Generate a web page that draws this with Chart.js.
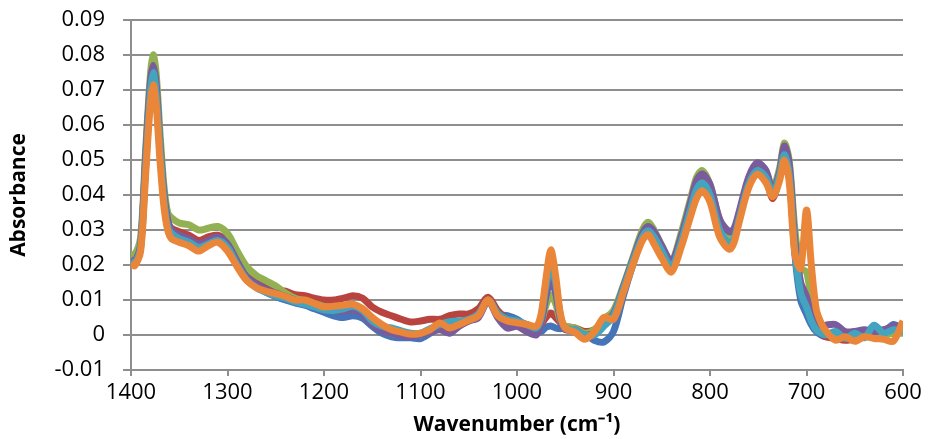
<!DOCTYPE html>
<html>
<head>
<meta charset="utf-8">
<title>Absorbance spectrum</title>
<script src="https://cdn.jsdelivr.net/npm/chart.js@4.4.1/dist/chart.umd.min.js"></script>
<style>
  html, body { margin: 0; padding: 0; background: #fff; }
  #chart { display: block; }
</style>
</head>
<body>
<canvas id="chart" width="928" height="439"></canvas>
<script>
// wavenumbers (cm-1), shared by every series
const wavenumbers = [1400, 1396, 1390, 1385, 1380, 1377, 1374, 1370, 1366, 1362, 1358, 1350, 1340, 1330, 1320, 1310, 1300, 1290, 1280, 1270,
  1260, 1250, 1240, 1230, 1220, 1210, 1200, 1190, 1180, 1170, 1160, 1150, 1140, 1130, 1120, 1110, 1100, 1090, 1080, 1070,
  1060, 1050, 1040, 1030, 1020, 1010, 1000, 990, 980, 975, 970, 965, 960, 955, 950, 940, 930, 920, 910, 900,
  890, 880, 870, 864, 858, 850, 840, 830, 820, 814, 808, 800, 790, 780, 775, 770, 760, 751, 742, 735,
  728, 723, 718, 712, 706, 700, 695, 690, 685, 680, 670, 660, 650, 640, 630, 620, 610, 600];

const serieAzul = [0.022, 0.0215, 0.026, 0.049, 0.071, 0.0762, 0.071, 0.054, 0.040, 0.032, 0.0295, 0.028, 0.027, 0.0255, 0.0265, 0.0275, 0.0255, 0.0205, 0.016, 0.0138,
  0.0122, 0.011, 0.010, 0.0092, 0.0085, 0.0075, 0.0065, 0.0055, 0.005, 0.0055, 0.0048, 0.0025, 0.0005, -0.0005, -0.0008, -0.0008, -0.001, 0.0005, 0.002, 0.003,
  0.0035, 0.0042, 0.0055, 0.0098, 0.006, 0.0055, 0.0045, 0.0025, 0.001, 0.001, 0.0022, 0.0026, 0.002, 0.0018, 0.002, 0.0015, 0.0005, -0.0015, -0.002, 0.001,
  0.011, 0.020, 0.028, 0.030, 0.0285, 0.0245, 0.020, 0.027, 0.037, 0.0425, 0.0445, 0.041, 0.0305, 0.027, 0.0285, 0.0335, 0.044, 0.048, 0.046, 0.041,
  0.046, 0.053, 0.047, 0.023, 0.010, 0.006, 0.003, 0.001, 0.0, -0.0005, 0.0005, 0.0, 0.001, 0.0, 0.0025, 0.0008, 0.003, 0.0015];

const serieVermelha = [0.022, 0.021, 0.026, 0.049, 0.070, 0.0755, 0.070, 0.054, 0.040, 0.032, 0.0305, 0.0295, 0.0285, 0.027, 0.028, 0.0285, 0.0265, 0.0215, 0.017, 0.015,
  0.014, 0.013, 0.0125, 0.0115, 0.0112, 0.0105, 0.010, 0.010, 0.0105, 0.0112, 0.0105, 0.008, 0.0065, 0.0055, 0.0045, 0.0037, 0.004, 0.0045, 0.0045, 0.0055,
  0.006, 0.006, 0.0075, 0.0108, 0.007, 0.0045, 0.0035, 0.003, 0.002, 0.003, 0.005, 0.0063, 0.005, 0.0035, 0.0025, 0.002, 0.001, 0.0015, 0.004, 0.006,
  0.013, 0.021, 0.0285, 0.0305, 0.0285, 0.024, 0.0195, 0.027, 0.037, 0.0425, 0.0445, 0.041, 0.0305, 0.0265, 0.028, 0.033, 0.043, 0.047, 0.0445, 0.039,
  0.0455, 0.0525, 0.048, 0.026, 0.014, 0.012, 0.006, 0.0025, 0.0005, -0.0005, -0.001, -0.0015, -0.001, 0.0, -0.0005, 0.001, 0.0005, 0.002];

const serieVerde = [0.023, 0.023, 0.028, 0.052, 0.074, 0.080, 0.075, 0.058, 0.043, 0.035, 0.0335, 0.032, 0.0315, 0.030, 0.0305, 0.031, 0.029, 0.024, 0.0195, 0.017,
  0.0155, 0.014, 0.012, 0.0105, 0.0098, 0.009, 0.0082, 0.0075, 0.007, 0.0075, 0.0065, 0.0035, 0.0015, 0.0005, 0.0, -0.0002, 0.0, 0.001, 0.002, 0.0025,
  0.0035, 0.004, 0.0055, 0.010, 0.006, 0.0035, 0.003, 0.002, 0.0015, 0.0035, 0.0085, 0.0114, 0.009, 0.004, 0.0025, 0.002, 0.0005, 0.0015, 0.0045, 0.007,
  0.014, 0.022, 0.030, 0.0322, 0.030, 0.0255, 0.021, 0.029, 0.039, 0.045, 0.047, 0.043, 0.033, 0.0285, 0.0295, 0.034, 0.044, 0.0485, 0.0465, 0.042,
  0.0475, 0.0548, 0.050, 0.030, 0.019, 0.018, 0.010, 0.005, 0.002, 0.0005, 0.0, -0.0005, 0.0, -0.0005, 0.0005, 0.0, 0.0005, 0.0005];

const serieRoxa = [0.0215, 0.021, 0.026, 0.050, 0.072, 0.077, 0.072, 0.055, 0.041, 0.033, 0.030, 0.0285, 0.0275, 0.026, 0.027, 0.028, 0.026, 0.021, 0.0165, 0.0145,
  0.013, 0.012, 0.011, 0.010, 0.0092, 0.0085, 0.0075, 0.007, 0.0068, 0.0072, 0.006, 0.003, 0.0012, 0.0005, -0.0002, -0.0005, 0.0, 0.0008, 0.0015, 0.0005,
  0.0025, 0.004, 0.005, 0.0098, 0.005, 0.002, 0.0025, 0.001, 0.0, 0.0035, 0.011, 0.0157, 0.012, 0.0045, 0.0015, 0.0015, 0.0, 0.0005, 0.0035, 0.006,
  0.0135, 0.0215, 0.029, 0.031, 0.0295, 0.0255, 0.021, 0.028, 0.038, 0.044, 0.046, 0.043, 0.033, 0.0295, 0.0305, 0.035, 0.045, 0.0492, 0.047, 0.041,
  0.0465, 0.054, 0.049, 0.027, 0.015, 0.011, 0.006, 0.003, 0.0025, 0.0028, 0.003, 0.001, 0.001, 0.0015, 0.001, 0.0015, 0.0025, 0.0025];

const serieCiano = [0.021, 0.0205, 0.025, 0.047, 0.069, 0.075, 0.069, 0.053, 0.039, 0.031, 0.029, 0.0275, 0.0265, 0.025, 0.026, 0.027, 0.025, 0.020, 0.0158, 0.0135,
  0.0122, 0.0112, 0.0105, 0.0095, 0.0088, 0.008, 0.0072, 0.007, 0.0075, 0.0082, 0.007, 0.004, 0.0025, 0.002, 0.0012, 0.0005, 0.0005, 0.0018, 0.003, 0.0038,
  0.004, 0.0045, 0.006, 0.010, 0.0062, 0.0045, 0.004, 0.003, 0.002, 0.005, 0.014, 0.0194, 0.015, 0.0055, 0.002, 0.0015, 0.0, 0.0, 0.0025, 0.0055,
  0.013, 0.021, 0.028, 0.0298, 0.028, 0.024, 0.0195, 0.0265, 0.036, 0.0415, 0.0435, 0.040, 0.030, 0.026, 0.0275, 0.033, 0.043, 0.047, 0.045, 0.0405,
  0.0455, 0.0515, 0.046, 0.024, 0.012, 0.008, 0.004, 0.0015, 0.0005, 0.0, 0.001, -0.001, 0.0005, -0.0008, 0.0028, 0.0005, 0.0015, 0.001];

const serieLaranja = [0.0205, 0.0198, 0.024, 0.045, 0.066, 0.0715, 0.066, 0.050, 0.037, 0.030, 0.0275, 0.0265, 0.0255, 0.024, 0.0255, 0.0265, 0.024, 0.0195, 0.0155, 0.0135,
  0.0125, 0.0118, 0.011, 0.010, 0.010, 0.009, 0.008, 0.0082, 0.0085, 0.0088, 0.0075, 0.005, 0.003, 0.0015, 0.0008, 0.0002, 0.0005, 0.0015, 0.0034, 0.002,
  0.003, 0.0042, 0.0055, 0.010, 0.0055, 0.004, 0.0035, 0.003, 0.0025, 0.006, 0.016, 0.0243, 0.017, 0.006, 0.002, 0.0008, -0.0012, 0.0008, 0.005, 0.0045,
  0.012, 0.020, 0.027, 0.0287, 0.026, 0.022, 0.018, 0.025, 0.034, 0.039, 0.0412, 0.038, 0.028, 0.0245, 0.0265, 0.032, 0.042, 0.046, 0.0435, 0.0395,
  0.044, 0.050, 0.044, 0.023, 0.019, 0.0357, 0.020, 0.0075, 0.0035, 0.0012, -0.0015, -0.0005, -0.0018, -0.0005, -0.001, -0.0012, -0.0018, 0.004];

// ordem do Excel: a última série fica por cima
const series = [
  { nome: 'Amostra 1', valores: serieAzul, cor: '#4575B8' },
  { nome: 'Amostra 2', valores: serieVermelha, cor: '#B8433F' },
  { nome: 'Amostra 3', valores: serieVerde, cor: '#93B152' },
  { nome: 'Amostra 4', valores: serieRoxa, cor: '#7A5B9B' },
  { nome: 'Amostra 5', valores: serieCiano, cor: '#43A4C0' },
  { nome: 'Amostra 6', valores: serieLaranja, cor: '#E9863A' }
];

const xTicks = [1400, 1300, 1200, 1100, 1000, 900, 800, 700, 600];
const yTicks = [0.09, 0.08, 0.07, 0.06, 0.05, 0.04, 0.03, 0.02, 0.01, 0, -0.01];

const corGrade = '#8E8E8E';
const fonteEixo = { family: "'Open Sans', 'Liberation Sans', sans-serif", size: 22 };

new Chart(document.getElementById('chart'), {
  type: 'line',
  data: {
    datasets: series.map((s, i) => ({
      label: s.nome,
      data: wavenumbers.map((w, j) => ({ x: w, y: s.valores[j] })),
      borderColor: s.cor,
      backgroundColor: s.cor,
      borderWidth: 7,
      pointRadius: 0,
      tension: 0.3,
      fill: false,
      order: series.length - i
    }))
  },
  options: {
    responsive: false,
    animation: false,
    devicePixelRatio: 1,
    layout: { padding: { top: 20, right: 25, bottom: 0, left: 0 } },
    plugins: { legend: { display: false }, tooltip: { enabled: false } },
    scales: {
      x: {
        type: 'linear',
        reverse: true,
        min: 600,
        max: 1400,
        afterBuildTicks: s => { s.ticks = xTicks.map(v => ({ value: v })); },
        afterFit: s => { s.height = 69; },
        grid: { drawOnChartArea: false, drawTicks: true, tickLength: 6, color: corGrade, lineWidth: 2 },
        border: { display: true, color: corGrade, width: 2 },
        ticks: { color: '#000', font: fonteEixo, padding: 4, maxRotation: 0, callback: v => String(v) },
        title: {
          display: true,
          text: 'Wavenumber (cm⁻¹)',
          color: '#000',
          font: { family: fonteEixo.family, size: 21, weight: 'bold' },
          padding: { top: 0, bottom: 1 }
        }
      },
      y: {
        min: -0.01,
        max: 0.09,
        afterBuildTicks: s => { s.ticks = yTicks.map(v => ({ value: v })); },
        afterFit: s => { s.width = 131; s.paddingTop = 0; s.paddingBottom = 0; },
        grid: { color: corGrade, lineWidth: 2, drawTicks: true, tickLength: 8 },
        border: { display: true, color: corGrade, width: 2 },
        ticks: {
          color: '#000',
          font: fonteEixo,
          padding: 18,
          callback: v => String(Number(v.toFixed(2)))
        },
        title: {
          display: true,
          text: 'Absorbance',
          color: '#000',
          font: { family: fonteEixo.family, size: 21, weight: 'bold' },
          padding: { top: 6, bottom: 0 }
        }
      }
    }
  }
});
</script>
</body>
</html>
